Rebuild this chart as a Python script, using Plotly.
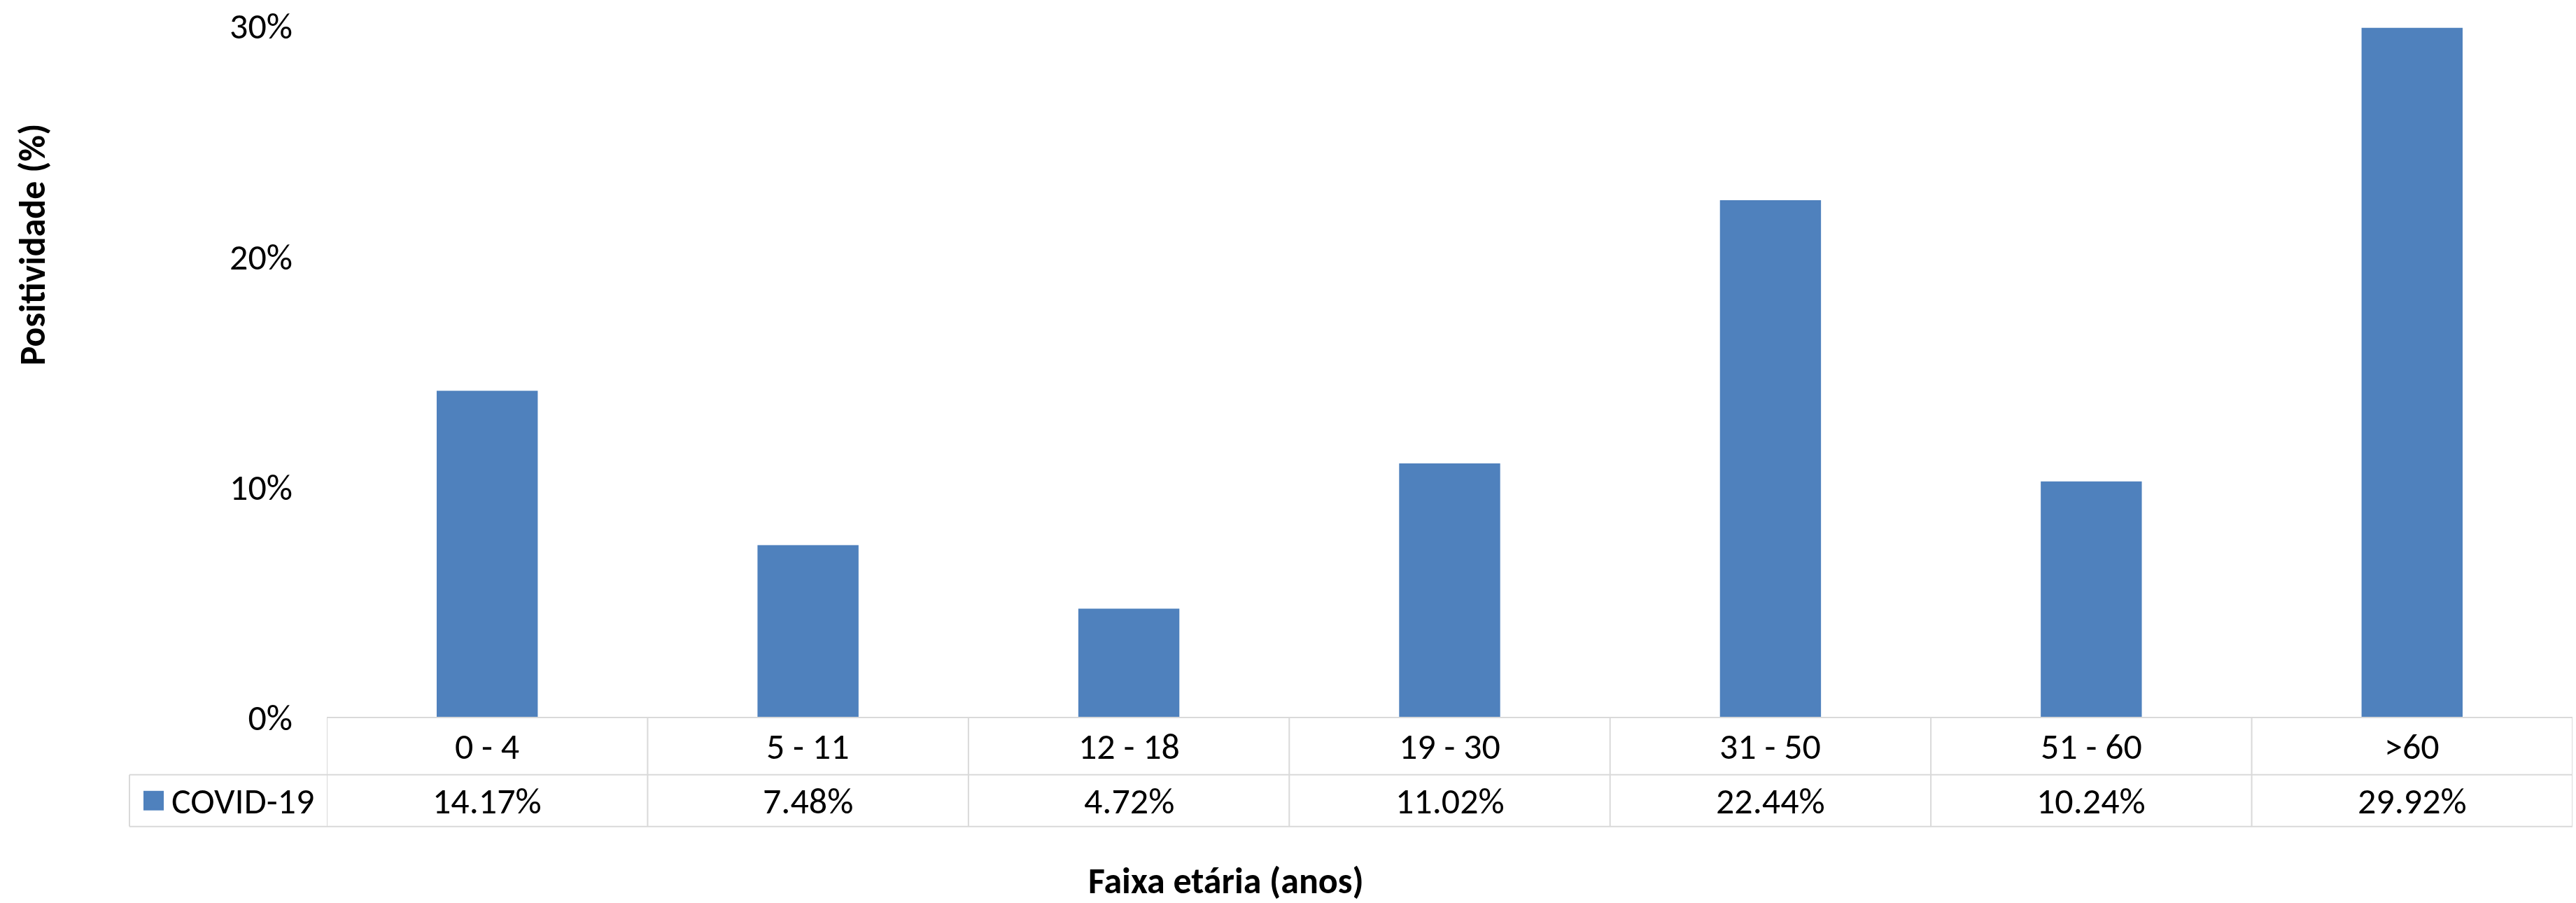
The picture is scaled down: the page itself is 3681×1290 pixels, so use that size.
import plotly.graph_objects as go

categories = ["0 - 4", "5 - 11", "12 - 18", "19 - 30", "31 - 50", "51 - 60", ">60"]
values = [14.17, 7.48, 4.72, 11.02, 22.44, 10.24, 29.92]
series_name = "COVID-19"
y_ticks = [0, 10, 20, 30]
y_ticktext = ["0%", "10%", "20%", "30%"]
x_title = "Faixa etária (anos)"
y_title = "Positividade (%)"

W, H = 3681, 1290
L, R, T, B = 467, 5, 35, 265
plot_w = W - L - R
plot_h = H - T - B

FONT = "Carlito, Calibri, Liberation Sans Narrow, Arial Narrow, Liberation Sans, sans-serif"
BAR = "#4F81BD"
GRID = "#D9D9D9"


def py(p):  # pixel y -> paper y
    return (H - B - p) / plot_h


def px(p):  # pixel x -> paper x
    return (p - L) / plot_w


fig = go.Figure()
fig.add_trace(go.Bar(x=list(range(len(categories))), y=values, name=series_name,
                     marker=dict(color=BAR, line=dict(width=0)), showlegend=False,
                     hoverinfo="skip"))

shapes = []
row1_bot = py(1107)
row2_bot = py(1181)
# horizontal lines
shapes.append(dict(type="line", xref="paper", yref="paper", x0=0, x1=1, y0=0, y1=0,
                   line=dict(color=GRID, width=2)))
shapes.append(dict(type="line", xref="paper", yref="paper", x0=px(185), x1=1, y0=row1_bot, y1=row1_bot,
                   line=dict(color=GRID, width=2)))
shapes.append(dict(type="line", xref="paper", yref="paper", x0=px(185), x1=1, y0=row2_bot, y1=row2_bot,
                   line=dict(color=GRID, width=2)))
# vertical lines
shapes.append(dict(type="line", xref="paper", yref="paper", x0=px(185), x1=px(185), y0=row1_bot, y1=row2_bot,
                   line=dict(color=GRID, width=2)))
for k in range(len(categories) + 1):
    xv = k - 0.5
    shapes.append(dict(type="line", xref="x", yref="paper", x0=xv, x1=xv, y0=0, y1=row2_bot,
                       line=dict(color=GRID, width=2)))
# legend key square
shapes.append(dict(type="rect", xref="paper", yref="paper", x0=px(205), x1=px(234), y0=py(1130), y1=py(1158),
                   fillcolor=BAR, line=dict(width=0)))

annotations = []
hdr_y = py(1066)
val_y = py(1144)
for i, (c, v) in enumerate(zip(categories, values)):
    annotations.append(dict(x=i, y=hdr_y, xref="x", yref="paper", text=c, showarrow=False,
                            font=dict(family=FONT, size=52, color="black"), xanchor="center", yanchor="middle"))
    annotations.append(dict(x=i, y=val_y, xref="x", yref="paper", text=f"{v:.2f}%", showarrow=False,
                            font=dict(family=FONT, size=52, color="black"), xanchor="center", yanchor="middle"))
annotations.append(dict(x=px(243), y=val_y, xref="paper", yref="paper", text=series_name, showarrow=False,
                        font=dict(family=FONT, size=52, color="black"), xanchor="left", yanchor="middle"))
annotations.append(dict(x=px(1752), y=py(1258), xref="paper", yref="paper", text=f"<b>{x_title}</b>",
                        showarrow=False, font=dict(family=FONT, size=52, color="black"),
                        xanchor="center", yanchor="middle"))
annotations.append(dict(x=px(46), y=py(348), xref="paper", yref="paper", text=f"<b>{y_title}</b>",
                        showarrow=False, textangle=-90, font=dict(family=FONT, size=52, color="black"),
                        xanchor="center", yanchor="middle"))

fig.update_layout(
    width=W, height=H,
    margin=dict(l=L, r=R, t=T, b=B, pad=0),
    paper_bgcolor="white", plot_bgcolor="white",
    bargap=0.685,
    shapes=shapes, annotations=annotations,
    xaxis=dict(range=[-0.5, len(categories) - 0.5], showticklabels=False, showgrid=False,
               zeroline=False, showline=False, ticks="", fixedrange=True),
    yaxis=dict(range=[0, 30], tickvals=y_ticks, ticktext=y_ticktext, showgrid=False, zeroline=False,
               showline=False, ticks="", ticklabelstandoff=48,
               tickfont=dict(family=FONT, size=52, color="black")),
)

fig.write_html("out.html", config={"displayModeBar": False, "staticPlot": True},
               post_script="document.body.style.margin='0';document.body.style.overflow='hidden';")
